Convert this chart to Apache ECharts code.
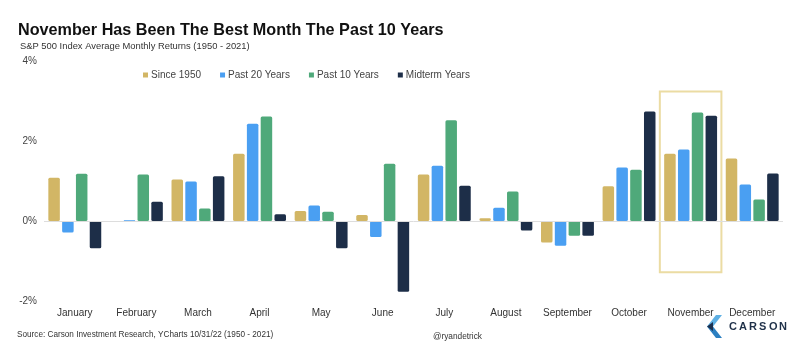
<!DOCTYPE html>
<html>
<head>
<meta charset="utf-8">
<script src="https://cdn.jsdelivr.net/npm/echarts@6/dist/echarts.min.js"></script>
<style>
  html, body { margin: 0; padding: 0; background: #fff; }
  #chart { width: 801px; height: 351px; }
</style>
</head>
<body>
<div id="chart"></div>
<script>
// 月份
const months = ['January', 'February', 'March', 'April', 'May', 'June',
  'July', 'August', 'September', 'October', 'November', 'December'];

// 各序列平均月收益 (%)
const since1950 = [1.08, -0.01, 1.04, 1.68, 0.25, 0.15, 1.16, 0.07, -0.54, 0.87, 1.68, 1.56];
const past20 = [-0.29, 0.02, 0.99, 2.43, 0.39, -0.40, 1.38, 0.33, -0.62, 1.34, 1.79, 0.91];
const past10 = [1.18, 1.16, 0.31, 2.61, 0.23, 1.43, 2.52, 0.74, -0.37, 1.28, 2.71, 0.54];
const midterm = [-0.68, 0.48, 1.12, 0.17, -0.68, -1.77, 0.88, -0.24, -0.37, 2.74, 2.63, 1.19];

// y 轴刻度
const yTicks = [-2, 0, 2, 4];

// 高亮框 (十一月)
const boxMonth = 10;
const boxRange = [-1.28, 3.24];

const seriesNames = ['Since 1950', 'Past 20 Years', 'Past 10 Years', 'Midterm Years'];
const seriesData = [since1950, past20, past10, midterm];
const colors = ['#d2b665', '#4a9ff2', '#4fa97a', '#1d2e48'];

const chart = echarts.init(document.getElementById('chart'));

const barSeries = seriesData.map((d, i) => ({
  name: seriesNames[i],
  type: 'bar',
  data: d,
  barWidth: 11.5,
  barGap: '20%',
  itemStyle: { color: colors[i], borderRadius: 1.5 },
  emphasis: { disabled: true }
}));

chart.setOption({
  animation: false,
  color: colors,
  title: [
    {
      text: 'November Has Been The Best Month The Past 10 Years',
      left: 13,
      top: 18,
      textStyle: { fontFamily: 'Liberation Sans', fontWeight: 'bold', fontSize: 16.2, color: '#111' }
    },
    {
      text: 'S&P 500 Index Average Monthly Returns (1950 - 2021)',
      left: 15,
      top: 37,
      textStyle: { fontFamily: 'Liberation Sans', fontWeight: 'normal', fontSize: 9.4, color: '#333' }
    }
  ],
  legend: {
    data: seriesNames,
    left: 138,
    top: 65,
    icon: 'rect',
    itemWidth: 5,
    itemHeight: 5,
    itemGap: 19,
    textStyle: { fontFamily: 'Liberation Sans', fontSize: 10, color: '#444', padding: [0, 0, 0, -2] }
  },
  grid: { left: 44, right: 18, top: 61, bottom: 50 },
  xAxis: [
    {
      type: 'category',
      data: months,
      axisLine: { show: false },
      axisTick: { show: false },
      axisLabel: { fontFamily: 'Liberation Sans', fontSize: 10, color: '#333', margin: 7, interval: 0 }
    },
    {
      type: 'value',
      min: 0,
      max: months.length,
      show: false
    }
  ],
  yAxis: {
    type: 'value',
    min: yTicks[0],
    max: yTicks[yTicks.length - 1],
    interval: 2,
    splitLine: { show: false },
    axisLine: { show: false },
    axisTick: { show: false },
    axisLabel: {
      formatter: '{value}%',
      fontFamily: 'Liberation Sans',
      fontSize: 10,
      color: '#444',
      margin: 7
    }
  },
  series: [
    ...barSeries,
    {
      type: 'line',
      xAxisIndex: 1,
      data: [],
      silent: true,
      markLine: {
        silent: true,
        symbol: 'none',
        label: { show: false },
        lineStyle: { color: '#dddddd', width: 1, type: 'solid' },
        data: [{ yAxis: 0 }]
      },
      markArea: {
        silent: true,
        itemStyle: { color: 'rgba(0,0,0,0)', borderColor: '#ebdca3', borderWidth: 2 },
        data: [[
          { coord: [boxMonth, boxRange[1]] },
          { coord: [boxMonth + 1, boxRange[0]] }
        ]]
      }
    }
  ],
  graphic: [
    {
      type: 'text',
      left: 17,
      top: 331,
      style: {
        text: 'Source: Carson Investment Research, YCharts 10/31/22 (1950 - 2021)',
        font: '8.2px "Liberation Sans"',
        fill: '#333'
      }
    },
    {
      type: 'text',
      left: 433,
      top: 333,
      style: { text: '@ryandetrick', font: '8.3px "Liberation Sans"', fill: '#333' }
    },
    // Carson 标志
    { type: 'polygon', shape: { points: [[716, 315], [722, 315], [713, 326.5], [707, 326.5]] }, style: { fill: '#5fb0e4' } },
    { type: 'polygon', shape: { points: [[707, 326.5], [713, 326.5], [722, 338], [716, 338]] }, style: { fill: '#2b7fc1' } },
    { type: 'polygon', shape: { points: [[707, 326.5], [713, 322], [713, 331]] }, style: { fill: '#1c3150' } },
    ...'CARSON'.split('').map((ch, i) => ({
      type: 'text',
      x: 729 + i * 10,
      y: 327,
      style: {
        text: ch,
        font: 'bold 11px "Liberation Sans"',
        fill: '#1f3048',
        textVerticalAlign: 'middle'
      }
    }))
  ]
});
</script>
</body>
</html>
